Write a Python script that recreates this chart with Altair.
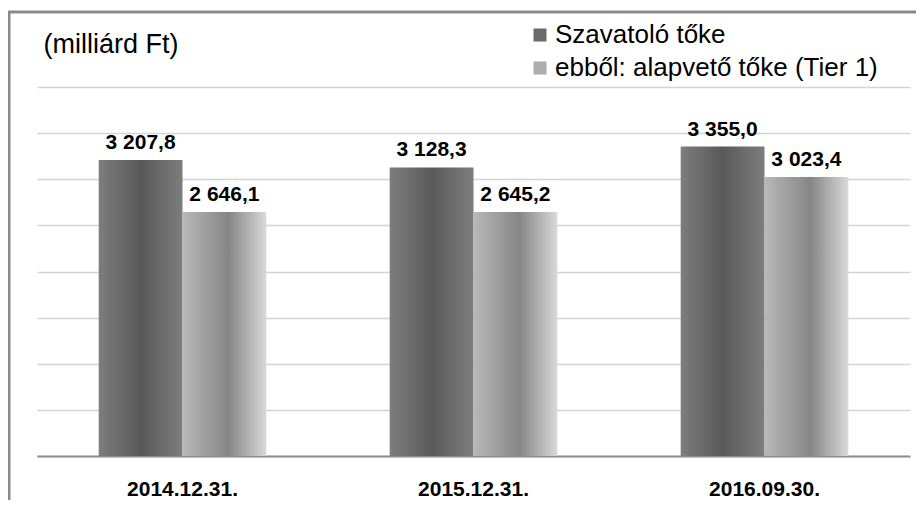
import altair as alt
import pandas as pd

categories = ["2014.12.31.", "2015.12.31.", "2016.09.30."]
series = ["Szavatoló tőke", "ebből: alapvető tőke (Tier 1)"]
szavatolo = [3207.8, 3128.3, 3355.0]
tier1 = [2646.1, 2645.2, 3023.4]
y_ticks = [0, 500, 1000, 1500, 2000, 2500, 3000, 3500, 4000]
unit_label = "(milliárd Ft)"

rows = []
for c, a, b in zip(categories, szavatolo, tier1):
    rows.append({"cat": c, "series": series[0], "value": a})
    rows.append({"cat": c, "series": series[1], "value": b})
df = pd.DataFrame(rows)

FONT = "Liberation Sans"

dark = alt.Gradient(
    gradient="linear", x1=0, x2=1, y1=0, y2=0,
    stops=[alt.GradientStop(offset=0, color="#7d7d7d"),
           alt.GradientStop(offset=0.5, color="#595959"),
           alt.GradientStop(offset=1, color="#7d7d7d")])
light = alt.Gradient(
    gradient="linear", x1=0, x2=1, y1=0, y2=0,
    stops=[alt.GradientStop(offset=0, color="#b8b8b8"),
           alt.GradientStop(offset=0.55, color="#868686"),
           alt.GradientStop(offset=1, color="#d9d9d9")])

x = alt.X("cat:N", sort=categories,
          scale=alt.Scale(paddingInner=0.424, paddingOuter=0.212),
          axis=alt.Axis(title=None, labelAngle=0, labelFont=FONT, labelFontSize=21,
                        labelFontWeight="bold", labelColor="black", labelPadding=22,
                        ticks=False, domainColor="#8c8c8c", domainWidth=2, grid=False))
xo = alt.XOffset("series:N", sort=series,
                 scale=alt.Scale(domain=series, paddingInner=0, paddingOuter=0))
y = alt.Y("value:Q", scale=alt.Scale(domain=[0, 4000], nice=False),
          axis=alt.Axis(title=unit_label, titleAngle=0, titleAlign="left",
                        titleBaseline="alphabetic", titleX=6, titleY=-35,
                        titleFont=FONT, titleFontSize=27, titleFontWeight="normal",
                        titleColor="black",
                        values=y_ticks, labels=False, ticks=False,
                        domain=False, gridColor="#d4d4d4", gridWidth=1.5))

border = alt.Chart(pd.DataFrame({"k": [0]})).mark_rect(
    fill="transparent", stroke="#8a8a8a", strokeWidth=3
).encode(x=alt.value(-28), x2=alt.value(905), y=alt.value(-75), y2=alt.value(440))

base = alt.Chart(df)

bars_dark = base.transform_filter(alt.datum.series == series[0]).mark_bar(fill=dark).encode(
    x=x, xOffset=xo, y=y)
bars_light = base.transform_filter(alt.datum.series == series[1]).mark_bar(fill=light).encode(
    x=x, xOffset=xo, y=y)

labels = base.transform_calculate(
    label="replace(replace(format(datum.value, ',.1f'), ',', ' '), '.', ',')"
).mark_text(font=FONT, fontSize=21, fontWeight="bold", color="black",
            baseline="alphabetic", dy=-11).encode(
    x=x, xOffset=xo, y=y, text="label:N")

legend_layer = base.mark_square(opacity=0).encode(
    x=x, y=y,
    color=alt.Color("series:N", sort=series,
                    scale=alt.Scale(domain=series, range=["#6b6b6b", "#adadad"]),
                    legend=alt.Legend(title=None, orient="none", legendX=490, legendY=-65,
                                      symbolType="square", symbolSize=169, symbolOpacity=1,
                                      symbolStrokeWidth=0, labelFont=FONT, labelFontSize=26,
                                      labelColor="black", labelOffset=2, rowPadding=7,
                                      labelLimit=500)))

chart = alt.layer(border, bars_dark, bars_light, labels, legend_layer).properties(
    width=873, height=369,
    autosize=alt.AutoSizeParams(type="none"),
    padding={"left": 29, "top": 79, "right": 6, "bottom": 44},
).configure_view(stroke=None)

chart.save("out.html", embed_options={"renderer": "svg", "actions": False})
